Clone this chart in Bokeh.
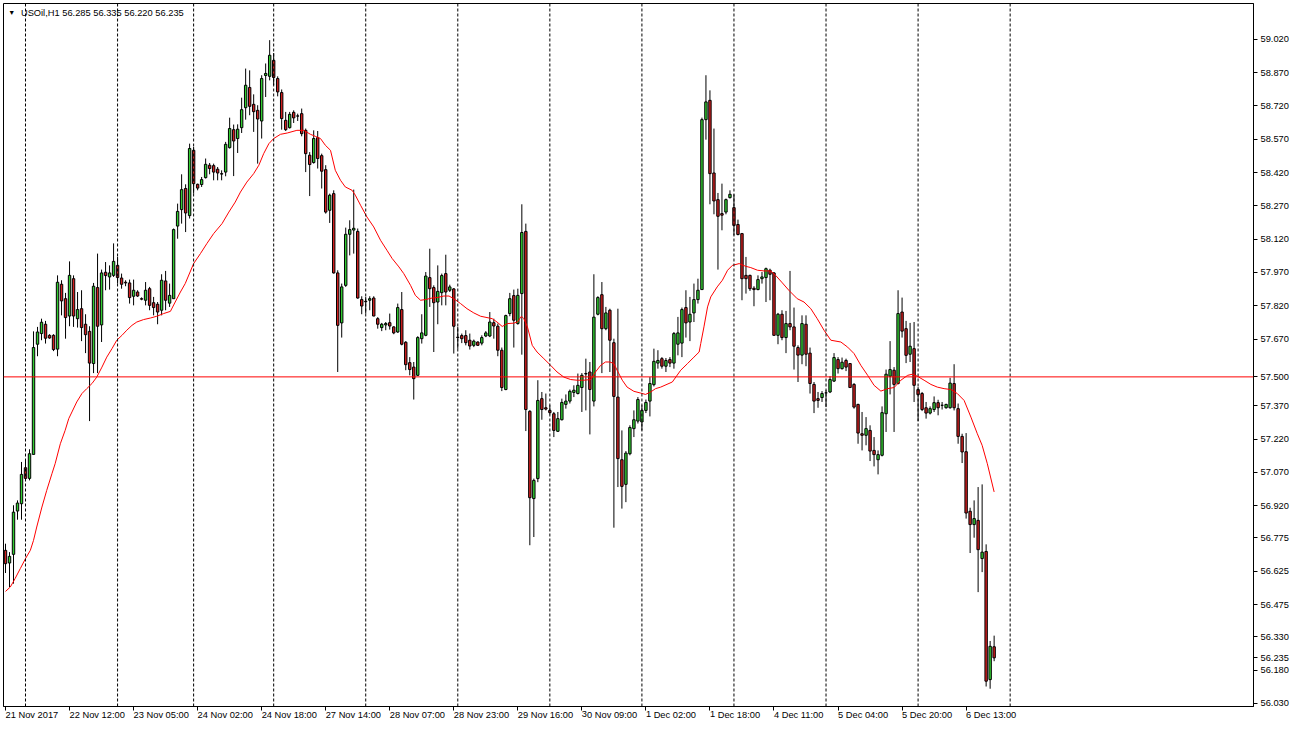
from bokeh.plotting import figure
from bokeh.models import Range1d, FixedTicker, Span, Label, BoxAnnotation, ColumnDataSource
from bokeh.embed import file_html
from bokeh.resources import INLINE

symbol = "USOil,H1"

opens = [56.719, 56.662, 56.701, 56.896, 56.929, 57.091, 57.043, 57.151, 57.647, 57.695,
         57.737, 57.687, 57.687, 57.625, 57.917, 57.852, 57.774, 57.942, 57.762, 57.807,
         57.737, 57.705, 57.560, 57.902, 57.734, 57.971, 57.950, 57.957, 58.002, 57.945,
         57.926, 57.923, 57.863, 57.882, 57.852, 57.845, 57.897, 57.834, 57.827, 57.800,
         57.932, 57.832, 57.852, 58.179, 58.253, 58.348, 58.226, 58.520, 58.367, 58.366,
         58.397, 58.453, 58.451, 58.435, 58.415, 58.422, 58.532, 58.613, 58.573, 58.622,
         58.712, 58.803, 58.727, 58.700, 58.652, 58.857, 58.853, 58.925, 58.843, 58.780,
         58.655, 58.622, 58.691, 58.675, 58.685, 58.610, 58.498, 58.465, 58.577, 58.496,
         58.433, 58.250, 58.325, 57.968, 57.743, 57.912, 58.142, 58.161, 58.155, 57.848,
         57.840, 57.845, 57.855, 57.762, 57.722, 57.734, 57.744, 57.725, 57.702, 57.803,
         57.656, 57.564, 57.544, 57.507, 57.672, 57.687, 57.947, 57.902, 57.837, 57.879,
         57.965, 57.890, 57.896, 57.679, 57.686, 57.686, 57.665, 57.642, 57.657, 57.652,
         57.684, 57.684, 57.744, 57.728, 57.620, 57.443, 57.785, 57.866, 57.740, 57.875,
         58.155, 57.345, 56.952, 57.042, 57.402, 57.361, 57.349, 57.334, 57.255, 57.307,
         57.376, 57.391, 57.430, 57.425, 57.452, 57.515, 57.522, 57.391, 57.782, 57.870,
         57.717, 57.800, 57.654, 57.409, 57.127, 57.016, 57.154, 57.267, 57.301, 57.297,
         57.349, 57.391, 57.465, 57.562, 57.582, 57.548, 57.578, 57.562, 57.647, 57.652,
         57.812, 57.747, 57.788, 57.848, 57.893, 58.658, 58.745, 58.418, 58.298, 58.235,
         58.242, 58.307, 58.262, 58.186, 58.145, 57.957, 57.957, 57.899, 57.893, 57.942,
         57.947, 57.980, 57.968, 57.687, 57.782, 57.677, 57.740, 57.725, 57.632, 57.598,
         57.737, 57.607, 57.466, 57.402, 57.407, 57.428, 57.432, 57.481, 57.578, 57.537,
         57.574, 57.560, 57.466, 57.376, 57.244, 57.237, 57.259, 57.169, 57.127, 57.147,
         57.334, 57.503, 57.530, 57.470, 57.792, 57.717, 57.602, 57.627, 57.443, 57.425,
         57.361, 57.337, 57.353, 57.384, 57.372, 57.361, 57.361, 57.470, 57.357, 57.232,
         57.163, 56.895, 56.835, 56.854, 56.682, 56.714, 56.137, 56.285]
highs = [56.749, 56.711, 56.922, 56.944, 57.117, 57.121, 57.174, 57.705, 57.725, 57.762,
         57.752, 57.692, 57.692, 57.957, 57.935, 57.878, 58.020, 57.957, 57.882, 57.890,
         57.782, 57.728, 57.923, 58.055, 57.983, 58.017, 58.002, 58.101, 58.040, 57.965,
         57.935, 57.938, 57.938, 57.890, 57.858, 57.927, 57.905, 57.860, 57.837, 57.962,
         57.977, 57.920, 58.168, 58.280, 58.412, 58.367, 58.550, 58.535, 58.370, 58.400,
         58.483, 58.463, 58.460, 58.445, 58.430, 58.558, 58.667, 58.636, 58.637, 58.757,
         58.888, 58.880, 58.772, 58.723, 58.858, 58.911, 59.016, 58.958, 58.853, 58.794,
         58.693, 58.693, 58.700, 58.685, 58.708, 58.618, 58.512, 58.610, 58.607, 58.505,
         58.453, 58.325, 58.340, 57.980, 57.920, 58.172, 58.205, 58.343, 58.168, 57.863,
         57.860, 57.863, 57.863, 57.769, 57.743, 57.747, 57.785, 57.728, 57.830, 57.882,
         57.661, 57.589, 57.567, 57.683, 57.782, 57.972, 58.077, 57.912, 58.002, 57.965,
         58.050, 57.915, 57.900, 57.725, 57.695, 57.710, 57.695, 57.668, 57.660, 57.687,
         57.706, 57.792, 57.762, 57.740, 57.632, 57.780, 57.878, 57.893, 57.897, 58.277,
         58.190, 57.350, 57.042, 57.485, 57.432, 57.425, 57.372, 57.342, 57.342, 57.402,
         57.421, 57.443, 57.462, 57.515, 57.517, 57.582, 57.567, 57.962, 57.863, 57.927,
         57.815, 57.807, 57.672, 57.807, 57.259, 57.166, 57.282, 57.349, 57.409, 57.372,
         57.398, 57.499, 57.627, 57.620, 57.589, 57.585, 57.589, 57.702, 57.770, 57.812,
         57.890, 57.860, 57.920, 57.942, 58.667, 58.858, 58.790, 58.618, 58.328, 58.370,
         58.303, 58.340, 58.322, 58.208, 58.148, 58.040, 57.960, 57.908, 57.957, 57.972,
         57.992, 57.987, 57.972, 57.788, 57.800, 57.797, 57.977, 57.812, 57.642, 57.777,
         57.777, 57.632, 57.477, 57.432, 57.436, 57.440, 57.503, 57.607, 57.589, 57.587,
         57.582, 57.562, 57.472, 57.379, 57.342, 57.319, 57.282, 57.229, 57.169, 57.367,
         57.533, 57.661, 57.544, 57.890, 57.857, 57.752, 57.743, 57.747, 57.454, 57.432,
         57.387, 57.367, 57.412, 57.397, 57.387, 57.379, 57.496, 57.557, 57.380, 57.244,
         57.247, 56.911, 56.944, 57.004, 57.016, 56.746, 56.311, 56.335]
lows = [56.617, 56.554, 56.569, 56.857, 56.857, 57.034, 57.034, 57.151, 57.593, 57.665,
        57.650, 57.672, 57.616, 57.593, 57.777, 57.672, 57.728, 57.725, 57.722, 57.661,
        57.607, 57.301, 57.517, 57.517, 57.657, 57.890, 57.893, 57.950, 57.920, 57.897,
        57.908, 57.830, 57.822, 57.860, 57.845, 57.822, 57.800, 57.777, 57.737, 57.777,
        57.800, 57.815, 57.852, 58.122, 58.190, 58.152, 58.213, 58.325, 58.340, 58.355,
        58.393, 58.412, 58.385, 58.385, 58.385, 58.403, 58.528, 58.404, 58.508, 58.598,
        58.658, 58.678, 58.603, 58.460, 58.573, 58.760, 58.835, 58.813, 58.763, 58.613,
        58.607, 58.618, 58.643, 58.652, 58.583, 58.422, 58.314, 58.460, 58.438, 58.348,
        58.235, 58.193, 57.965, 57.522, 57.677, 57.905, 58.047, 58.055, 57.852, 57.782,
        57.785, 57.800, 57.773, 57.717, 57.706, 57.710, 57.713, 57.692, 57.698, 57.642,
        57.530, 57.507, 57.398, 57.504, 57.650, 57.683, 57.815, 57.612, 57.737, 57.822,
        57.822, 57.882, 57.605, 57.627, 57.652, 57.642, 57.623, 57.634, 57.640, 57.642,
        57.679, 57.679, 57.672, 57.593, 57.436, 57.440, 57.773, 57.632, 57.735, 57.600,
        57.256, 56.742, 56.779, 57.026, 57.307, 57.349, 57.331, 57.229, 57.252, 57.304,
        57.357, 57.380, 57.409, 57.421, 57.342, 57.349, 57.241, 57.367, 57.777, 57.517,
        57.710, 57.522, 56.821, 57.004, 56.907, 56.936, 57.147, 57.229, 57.290, 57.259,
        57.337, 57.322, 57.457, 57.537, 57.537, 57.522, 57.544, 57.537, 57.597, 57.589,
        57.677, 57.661, 57.747, 57.830, 57.893, 58.568, 58.277, 58.232, 57.983, 58.160,
        58.232, 58.303, 58.137, 58.137, 57.845, 57.875, 57.887, 57.818, 57.890, 57.920,
        57.837, 57.845, 57.685, 57.647, 57.665, 57.607, 57.710, 57.533, 57.477, 57.557,
        57.548, 57.425, 57.337, 57.361, 57.387, 57.364, 57.427, 57.477, 57.515, 57.533,
        57.526, 57.450, 57.357, 57.199, 57.169, 57.192, 57.121, 57.097, 57.061, 57.142,
        57.252, 57.421, 57.252, 57.466, 57.677, 57.562, 57.567, 57.387, 57.301, 57.346,
        57.312, 57.331, 57.342, 57.327, 57.353, 57.357, 57.357, 57.349, 57.199, 57.112,
        56.862, 56.707, 56.776, 56.531, 56.621, 56.106, 56.096, 56.220]
closes = [56.659, 56.692, 56.891, 56.932, 57.061, 57.043, 57.154, 57.632, 57.702, 57.746,
          57.674, 57.675, 57.623, 57.926, 57.842, 57.767, 57.957, 57.774, 57.803, 57.722,
          57.690, 57.562, 57.908, 57.728, 57.968, 57.956, 57.968, 58.020, 57.947, 57.917,
          57.923, 57.857, 57.890, 57.864, 57.850, 57.890, 57.822, 57.812, 57.792, 57.935,
          57.845, 57.867, 58.163, 58.245, 58.343, 58.238, 58.528, 58.370, 58.350, 58.388,
          58.457, 58.438, 58.422, 58.418, 58.413, 58.547, 58.618, 58.562, 58.615, 58.703,
          58.813, 58.718, 58.694, 58.661, 58.843, 58.866, 58.948, 58.848, 58.783, 58.663,
          58.613, 58.682, 58.666, 58.674, 58.595, 58.505, 58.456, 58.573, 58.483, 58.426,
          58.242, 58.318, 57.968, 57.732, 57.905, 58.142, 58.163, 58.169, 57.855, 57.819,
          57.838, 57.852, 57.774, 57.737, 57.737, 57.740, 57.729, 57.698, 57.812, 57.647,
          57.555, 57.533, 57.492, 57.677, 57.698, 57.954, 57.897, 57.834, 57.885, 57.956,
          57.882, 57.905, 57.728, 57.677, 57.672, 57.654, 57.639, 57.661, 57.642, 57.677,
          57.698, 57.747, 57.729, 57.620, 57.452, 57.776, 57.852, 57.755, 57.867, 58.150,
          57.353, 56.956, 57.034, 57.394, 57.353, 57.355, 57.339, 57.259, 57.312, 57.385,
          57.391, 57.435, 57.440, 57.462, 57.507, 57.513, 57.443, 57.769, 57.857, 57.717,
          57.788, 57.665, 57.412, 57.132, 57.007, 57.157, 57.272, 57.307, 57.398, 57.349,
          57.385, 57.470, 57.570, 57.574, 57.548, 57.574, 57.562, 57.695, 57.698, 57.803,
          57.743, 57.782, 57.848, 57.890, 58.658, 58.738, 58.415, 58.292, 58.223, 58.228,
          58.298, 58.322, 58.182, 58.141, 57.942, 57.942, 57.897, 57.893, 57.938, 57.950,
          57.987, 57.962, 57.687, 57.782, 57.677, 57.740, 57.725, 57.638, 57.598, 57.740,
          57.602, 57.470, 57.391, 57.394, 57.425, 57.428, 57.488, 57.587, 57.537, 57.566,
          57.544, 57.452, 57.364, 57.247, 57.237, 57.267, 57.166, 57.150, 57.150, 57.339,
          57.512, 57.533, 57.466, 57.785, 57.706, 57.597, 57.638, 57.462, 57.420, 57.353,
          57.337, 57.357, 57.384, 57.361, 57.372, 57.376, 57.472, 57.361, 57.232, 57.162,
          56.887, 56.835, 56.862, 56.722, 56.711, 56.130, 56.287, 56.235]

# moving average: (bar position, value)
ma_bar = [0, 1.2, 2.4, 3.7, 5, 6.2, 7, 7.8, 9.1, 10.3, 11.6, 12.4, 13.7, 14.9, 15.8, 16.6,
          17.8, 19.1, 20.3, 21.6, 22.8, 24.1, 25.3, 26.6, 27.8, 29.1, 30.3, 31.6, 32.8, 34.5,
          36.2, 37.8, 39.5, 41.2, 42.4, 43.7, 44.9, 47, 48.7, 50.3, 52, 54.1, 55.8, 57.4,
          58.7, 60.3, 62, 63.3, 64.5, 65.8, 67, 68.7, 70.4, 72.8, 74.5, 76.2, 77.4, 78.7,
          79.9, 81.2, 82.4, 83.7, 84.9, 86.6, 87.4, 88.7, 90.3, 92, 93.7, 95.3, 96.6, 98.3,
          99.5, 101.2, 102.4, 103.7, 104.9, 106.6, 107.8, 109.5, 110.8, 112, 113.7, 115.3,
          117, 118.7, 120.3, 121.6, 122.8, 124.1, 125.4, 127, 127.9, 128.9, 129.5, 130.4,
          131.6, 132.8, 134.5, 136.2, 137.8, 139.5, 141.2, 142.8, 144.5, 146.2, 147.4,
          148.7, 149.9, 151, 152, 152.8, 154.1, 155.3, 157, 158.7, 159.9, 161.2, 162.4,
          163.7, 166.6, 168.7, 170.4, 172, 173.3, 173.7, 174.5, 175.4, 176.2, 177.8, 179.1,
          180.4, 181.6, 183.3, 184.9, 186.2, 187.9, 189.5, 191.2, 192.4, 194.1, 195.7,
          197.8, 199.5, 201.2, 202.8, 204.5, 206.2, 208.7, 210.4, 212, 213.7, 215.4, 217,
          218.7, 220.4, 222, 223.7, 225.4, 226.6, 227.8, 229.5, 231.2, 232.8, 234.5, 236.2,
          237.8, 239.5, 241.2, 242.8, 244, 245.3, 247]
ma_val = [56.534, 56.554, 56.592, 56.637, 56.682, 56.719, 56.764, 56.824, 56.914, 56.989,
          57.064, 57.109, 57.199, 57.259, 57.312, 57.342, 57.387, 57.425, 57.447, 57.470,
          57.499, 57.544, 57.589, 57.627, 57.665, 57.687, 57.710, 57.732, 57.747, 57.758,
          57.765, 57.773, 57.785, 57.795, 57.837, 57.882, 57.920, 58.010, 58.055, 58.100,
          58.145, 58.190, 58.242, 58.287, 58.332, 58.377, 58.415, 58.453, 58.505, 58.550,
          58.573, 58.592, 58.598, 58.610, 58.610, 58.592, 58.583, 58.573, 58.543, 58.520,
          58.430, 58.385, 58.355, 58.340, 58.318, 58.273, 58.220, 58.175, 58.115, 58.070,
          58.033, 57.995, 57.965, 57.912, 57.867, 57.845, 57.848, 57.855, 57.857, 57.864,
          57.864, 57.852, 57.830, 57.807, 57.788, 57.773, 57.767, 57.762, 57.747, 57.727,
          57.740, 57.742, 57.747, 57.773, 57.762, 57.725, 57.642, 57.612, 57.582, 57.552,
          57.522, 57.499, 57.488, 57.485, 57.485, 57.488, 57.522, 57.552, 57.567, 57.567,
          57.560, 57.530, 57.485, 57.454, 57.435, 57.427, 57.421, 57.432, 57.447, 57.454,
          57.477, 57.530, 57.560, 57.589, 57.612, 57.650, 57.725, 57.815, 57.860, 57.905,
          57.935, 57.980, 58.002, 58.010, 57.998, 57.992, 57.980, 57.977, 57.977, 57.957,
          57.923, 57.890, 57.852, 57.837, 57.807, 57.762, 57.710, 57.665, 57.657, 57.634,
          57.605, 57.552, 57.507, 57.462, 57.436, 57.447, 57.452, 57.485, 57.507, 57.512,
          57.503, 57.485, 57.466, 57.454, 57.447, 57.443, 57.425, 57.394, 57.319, 57.244,
          57.192, 57.109, 56.982]

day_start_bars = [5, 28, 47, 67, 90, 113, 136, 159, 182, 205, 228, 251]
time_tick_bars = [0, 16, 32, 48, 64, 80, 96, 112, 128, 144, 160, 176, 192, 208, 224, 240]
time_tick_labels = ["21 Nov 2017", "22 Nov 12:00", "23 Nov 05:00", "24 Nov 02:00",
                    "24 Nov 18:00", "27 Nov 14:00", "28 Nov 07:00", "28 Nov 23:00",
                    "29 Nov 16:00", "30 Nov 09:00", "1 Dec 02:00", "1 Dec 18:00",
                    "4 Dec 11:00", "5 Dec 04:00", "5 Dec 20:00", "6 Dec 13:00"]
# 57.520 is hidden behind the 57.500 level marker on the price scale
price_tick_labels = ["59.020", "58.870", "58.720", "58.570", "58.420", "58.270", "58.120",
                     "57.970", "57.820", "57.670", "57.370", "57.220", "57.070",
                     "56.920", "56.775", "56.625", "56.475", "56.330", "56.180", "56.030"]
level_price = 57.500

FONT = "Liberation Sans"
FSIZE = "9.3px"
BULL = "#32cd32"
BEAR = "#d01f1f"

n = len(opens)
bars = list(range(n))
src = ColumnDataSource(dict(
    x=bars, open=opens, high=highs, low=lows, close=closes,
    top=[max(o, c) for o, c in zip(opens, closes)],
    bottom=[min(o, c) for o, c in zip(opens, closes)],
    color=[BULL if c > o else BEAR for o, c in zip(opens, closes)],
))

x_end = 311.8
y_lo, y_hi = 56.016, 59.181
p = figure(width=1294, height=728, x_range=Range1d(-0.5, x_end),
           y_range=Range1d(y_lo, y_hi), output_backend="svg",
           toolbar_location=None, y_axis_location="right",
           min_border_left=3, min_border_top=3, min_border_right=41, min_border_bottom=22)
p.background_fill_color = "white"
p.border_fill_color = "white"
p.outline_line_color = "black"
p.outline_line_alpha = 1.0
p.xgrid.visible = False
p.ygrid.visible = False

for d in day_start_bars:
    p.add_layout(Span(location=d, dimension="height", line_color="black",
                      line_dash="3 2", line_width=1))

p.add_layout(Span(location=level_price, dimension="width", line_color="#ff0000", line_width=1))

p.segment(x0="x", y0="high", x1="x", y1="low", source=src, line_color="black", line_width=1)
p.vbar(x="x", width=0.6, top="top", bottom="bottom", source=src,
       fill_color="color", line_color="black", line_width=1)
p.line(ma_bar, ma_val, line_color="#ff0000", line_width=1)

xa = p.xaxis[0]
xa.ticker = FixedTicker(ticks=time_tick_bars)
xa.major_label_overrides = {b: s for b, s in zip(time_tick_bars, time_tick_labels)}
xa.major_label_orientation = -0.0001
xa.major_tick_out = 4
xa.major_tick_in = 0
xa.minor_tick_out = 0
xa.minor_tick_in = 0
xa.major_label_standoff = 4
xa.axis_line_color = "black"
xa.major_label_text_font = FONT
xa.major_label_text_font_size = FSIZE
xa.major_label_text_color = "black"

# price scale: regular levels plus the 57.500 level and the last price
ya = p.yaxis[0]
scale_labels = price_tick_labels + [f"{level_price:.3f}", f"{closes[-1]:.3f}"]
ya.ticker = FixedTicker(ticks=[float(s) for s in scale_labels])
ya.major_label_overrides = {float(s): s for s in scale_labels}
ya.major_tick_out = 4
ya.major_tick_in = 0
ya.minor_tick_out = 0
ya.minor_tick_in = 0
ya.major_label_standoff = 3
ya.axis_line_color = "black"
ya.major_label_text_font = FONT
ya.major_label_text_font_size = FSIZE
ya.major_label_text_color = "black"

# red marker behind the 57.500 scale label
p.add_layout(BoxAnnotation(left=x_end, right=x_end + 9.5,
                           bottom=level_price - 0.028, top=level_price + 0.028,
                           fill_color="#ff0000", fill_alpha=1.0, line_alpha=0,
                           level="underlay"), "right")

# header text
p.add_layout(Label(x=0.7, y=59.139, text="\u25bc", text_font=FONT, text_font_size="7px",
                   text_color="black", text_baseline="middle"))
p.add_layout(Label(x=3.85, y=59.139,
                   text=f"{symbol}  {opens[-1]:.3f} {highs[-1]:.3f} {lows[-1]:.3f} {closes[-1]:.3f}",
                   text_font=FONT, text_font_size=FSIZE, text_color="black",
                   text_baseline="middle"))

open("out.html", "w").write(file_html(p, INLINE))
